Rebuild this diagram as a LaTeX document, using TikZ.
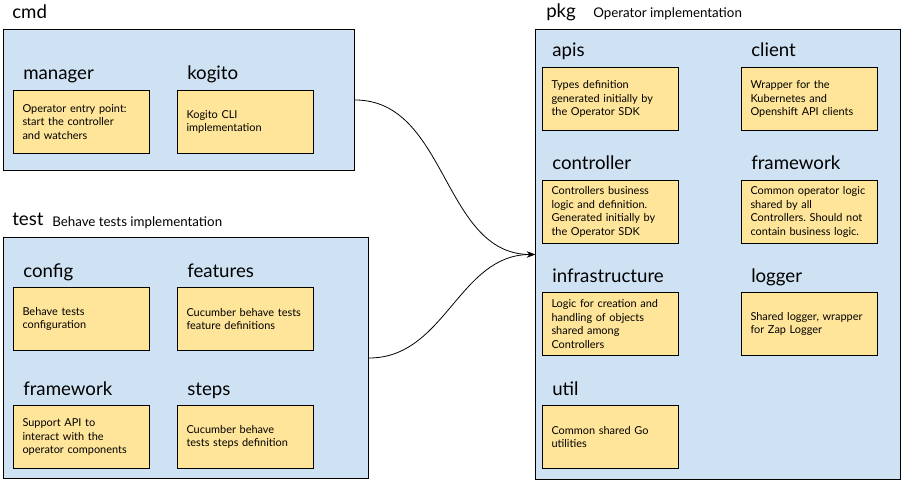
\documentclass[tikz,border=0pt]{standalone}
\usepackage{fontspec}
\setmainfont{Lato}
\frenchspacing
\usetikzlibrary{arrows.meta}
\definecolor{pkgblue}{HTML}{CFE2F3}
\definecolor{boxyellow}{HTML}{FFE599}
\tikzset{
  cont/.style 2 args={draw=black, fill=pkgblue, line width=0.75pt, minimum width=#1*0.75pt, minimum height=#2*0.75pt, inner sep=0pt, anchor=north west},
  item/.style={draw=black, fill=boxyellow, line width=0.75pt, minimum width=136*0.75pt, minimum height=63*0.75pt, text width=118*0.75pt, inner xsep=9*0.75pt, inner ysep=0pt, align=left, anchor=north west, font=\fontsize{8.2pt}{10.2pt}\selectfont},
  head/.style={anchor=base west, inner sep=0pt, font=\fontsize{14pt}{16pt}\selectfont},
  sub/.style={anchor=base west, inner sep=0pt, font=\fontsize{10pt}{12pt}\selectfont},
  conn/.style={line width=0.6pt, -{Stealth[length=6pt,width=4.5pt]}}
}
\begin{document}
\begin{tikzpicture}[x=0.75pt,y=-0.75pt]
\useasboundingbox (0,0) rectangle (905,484);
% containers
\node[cont={351}{141}] (cmd) at (3,29) {};
\node[cont={365}{241}] (test) at (3,237) {};
\node[cont={365}{450}] (pkg) at (535,29) {};
% top labels
\node[head] (cmdl) at (12,19) {cmd};
\node[head] (testl) at (12,226) {test};
\node[sub] (testd) at (52,227) {Behave tests implementation};
\node[head] (pkgl) at (546,18) {pkg};
\node[sub] (pkgd) at (593,18) {Operator implementation};
% cmd
\node[head] (managerl) at (23,80) {manager};
\node[item] (manager) at (13,90) {Operator entry point:\\start the controller\\and watchers};
\node[head] (kogitol) at (187,80) {kogito};
\node[item] (kogito) at (177,90) {Kogito CLI\\implementation};
% test
\node[head] (configl) at (23,277) {config};
\node[item] (config) at (13,287) {Behave tests\\configuration};
\node[head] (featuresl) at (187,277) {features};
\node[item] (features) at (177,287) {Cucumber behave tests\\feature definitions};
\node[head] (tframeworkl) at (23,395) {framework};
\node[item] (tframework) at (13,405) {Support API to\\interact with the\\operator components};
\node[head] (stepsl) at (187,395) {steps};
\node[item] (steps) at (177,405) {Cucumber behave\\tests steps definition};
% pkg
\node[head] (apisl) at (552,57) {apis};
\node[item] (apis) at (542,67) {Types definition\\generated initially by\\the Operator SDK};
\node[head] (clientl) at (751,57) {client};
\node[item] (client) at (741,67) {Wrapper for the\\Kubernetes and\\Openshift API clients};
\node[head] (controllerl) at (552,170) {controller};
\node[item] (controller) at (542,180) {Controllers business\\logic and definition.\\Generated initially by\\the Operator SDK};
\node[head] (pframeworkl) at (751,170) {framework};
\node[item] (pframework) at (741,180) {Common operator logic\\shared by all\\Controllers. Should not\\contain business logic.};
\node[head] (infral) at (552,282) {infrastructure};
\node[item] (infra) at (542,292) {Logic for creation and\\handling of objects\\shared among\\Controllers};
\node[head] (loggerl) at (751,282) {logger};
\node[item] (logger) at (741,292) {Shared logger, wrapper\\for Zap Logger};
\node[head] (utill) at (552,395) {util};
\node[item] (util) at (542,405) {Common shared Go\\utilities};
% connectors
\draw[conn] (cmd.east) to[out=0,in=180] (pkg.west);
\draw[conn] (test.east) to[out=0,in=180] (pkg.west);
\end{tikzpicture}
\end{document}
